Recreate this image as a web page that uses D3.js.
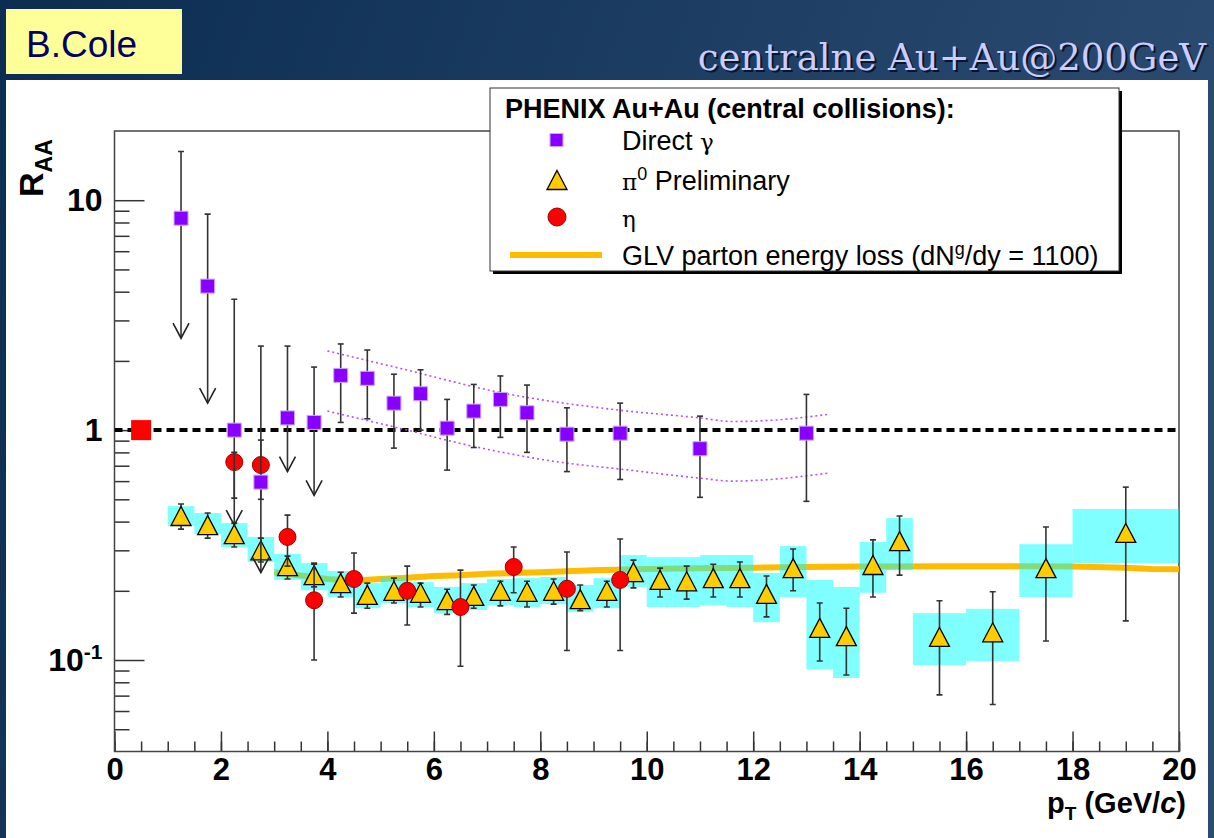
<!DOCTYPE html>
<html>
<head>
<meta charset="utf-8">
<script src="https://cdn.jsdelivr.net/npm/d3@7"></script>
<style>
body{margin:0;padding:0;overflow:hidden;background:#0f3057;}
text{font-family:"Liberation Sans", Arial, Helvetica, sans-serif;}
</style>
</head>
<body>
<div id="chart"></div>
<script>
var width=1214, height=838;
var margin={top:131, right:35, bottom:86.5, left:114.5};
var gwidth=width-margin.left-margin.right, gheight=height-margin.top-margin.bottom;

// direct photons (purple squares), first six are upper limits
var gamX  =[1.25,1.75,2.25,2.75,3.25,3.75,4.25,4.75,5.25,5.75,6.25,6.75,7.25,7.75,8.5,9.5,11,13];
var gamY  =[8.35,4.23,1.0,0.594,1.13,1.08,1.73,1.68,1.31,1.44,1.02,1.21,1.36,1.19,0.96,0.97,0.83,0.97];
var gamHi =[16.3,8.7,3.71,2.32,2.32,1.88,2.37,2.23,1.75,1.83,1.36,1.58,1.72,1.57,1.25,1.31,1.15,1.43];
var gamLo =[2.51,1.31,0.386,0.24,0.66,0.52,1.08,1.12,0.835,1.0,0.67,0.84,0.93,0.80,0.66,0.61,0.51,0.49];
var gamLimit=[1,1,1,1,1,1,0,0,0,0,0,0,0,0,0,0,0,0];

// dotted band around direct photons
var bandUpX=[4,5.35,7.23,9.5,11,11.6,12.4,13.4];
var bandUp =[2.21,1.86,1.46,1.22,1.13,1.09,1.105,1.17];
var bandLoX=[4,5.35,6.72,8.49,9.5,11,11.6,12.4,13.4];
var bandLo =[1.21,1.02,0.852,0.719,0.677,0.618,0.60,0.612,0.65];

// pi0 preliminary
var pi0X  =[1.25,1.75,2.25,2.75,3.25,3.75,4.25,4.75,5.25,5.75,6.25,6.75,7.25,7.75,8.25,8.75,9.25,9.75,10.25,10.75,11.25,11.75,12.25,12.75,13.25,13.75,14.25,14.75,15.5,16.5,17.5,19];
var pi0BinW=[0.5,0.5,0.5,0.5,0.5,0.5,0.5,0.5,0.5,0.5,0.5,0.5,0.5,0.5,0.5,0.5,0.5,0.5,0.5,0.5,0.5,0.5,0.5,0.5,0.5,0.5,0.5,0.5,1,1,1,2];
var pi0Y  =[0.423,0.386,0.353,0.300,0.256,0.234,0.216,0.192,0.200,0.196,0.182,0.190,0.200,0.198,0.200,0.184,0.200,0.241,0.223,0.220,0.227,0.227,0.194,0.251,0.138,0.127,0.259,0.329,0.126,0.132,0.251,0.357];
var pi0Hi =[0.477,0.436,0.394,0.339,0.283,0.264,0.241,0.216,0.227,0.216,0.203,0.212,0.220,0.220,0.225,0.212,0.220,0.272,0.251,0.256,0.261,0.267,0.232,0.304,0.177,0.168,0.333,0.423,0.181,0.198,0.379,0.565];
var pi0Lo =[0.371,0.339,0.310,0.267,0.225,0.208,0.188,0.168,0.177,0.170,0.158,0.168,0.172,0.170,0.175,0.164,0.170,0.206,0.188,0.184,0.188,0.188,0.154,0.200,0.099,0.086,0.188,0.234,0.0705,0.064,0.121,0.148];
var pi0SysHi=[0.467,0.436,0.394,0.343,0.289,0.264,0.244,0.216,0.230,0.218,0.208,0.216,0.225,0.227,0.230,0.212,0.227,0.286,0.280,0.280,0.286,0.286,0.239,0.313,0.223,0.208,0.326,0.414,0.160,0.167,0.319,0.454];
var pi0SysLo=[0.383,0.353,0.310,0.267,0.223,0.201,0.188,0.168,0.177,0.170,0.160,0.165,0.173,0.170,0.175,0.162,0.168,0.208,0.170,0.170,0.173,0.170,0.146,0.188,0.091,0.0835,0.196,0.246,0.095,0.099,0.188,0.264];

// eta
var etaX =[2.25,2.75,3.25,3.75,4.5,5.5,6.5,7.5,8.5,9.5];
var etaY =[0.726,0.705,0.343,0.182,0.225,0.200,0.170,0.254,0.204,0.223];
var etaHi=[0.80,0.905,0.427,0.261,0.292,0.256,0.246,0.310,0.295,0.336];
var etaLo=[0.506,0.50,0.256,0.10,0.160,0.142,0.094,0.196,0.110,0.110];

// GLV energy loss curve
var glvX=[3.0,3.5,4.0,4.5,5.0,5.5,6.0,6.5,7.0,7.5,8.0,8.5,9.0,10,11,12,13,14,16,18,19,19.5,20];
var glvY=[0.241,0.233,0.225,0.222,0.225,0.228,0.232,0.234,0.237,0.239,0.241,0.243,0.246,0.249,0.251,0.252,0.254,0.255,0.256,0.255,0.252,0.249,0.248];

// reference point at R_AA = 1
var refX=[0.5], refY=[1.0];

var xTicks=[0,2,4,6,8,10,12,14,16,18,20];
var yMajor=[0.1,1,10];
var yMinor=[0.05,0.06,0.07,0.08,0.09,0.2,0.3,0.4,0.5,0.6,0.7,0.8,0.9,2,3,4,5,6,7,8,9];

var svg=d3.select('#chart').append('svg')
        .attr('width', width)
        .attr('height', height);

var defs=svg.append('defs');
var grad=defs.append('linearGradient').attr('id','bg')
        .attr('x1','0').attr('y1','0').attr('x2','1').attr('y2','0.25');
grad.append('stop').attr('offset','0').attr('stop-color','#0c2d52');
grad.append('stop').attr('offset','1').attr('stop-color','#2b4b71');
defs.append('clipPath').attr('id','plotclip').append('rect')
        .attr('width', gwidth).attr('height', gheight);

svg.append('rect').attr('width',width).attr('height',height).attr('fill','url(#bg)');
svg.append('rect').attr('x',6).attr('y',80).attr('width',1202).attr('height',758).attr('fill','#fff');

// header
svg.append('rect').attr('x',6).attr('y',9).attr('width',176).attr('height',65).attr('fill','#ffff99');
svg.append('text').attr('x',26).attr('y',57).text('B.Cole')
    .style('font-size','37px').style('fill','#000066');
svg.append('text').attr('x',1208).attr('y',72).attr('text-anchor','end')
    .text('centralne Au+Au@200GeV')
    .style('font-family','"DejaVu Serif", Georgia, serif').style('font-size','37px').style('fill','#081628');
svg.append('text').attr('x',1206).attr('y',70).attr('text-anchor','end')
    .text('centralne Au+Au@200GeV')
    .style('font-family','"DejaVu Serif", Georgia, serif').style('font-size','37px').style('fill','#ccccff');

var g=svg.append('g').attr('transform','translate('+margin.left+','+margin.top+')');

var x=d3.scaleLinear().domain([0,20]).range([0,gwidth]);
var y=d3.scaleLog().domain([0.04,20]).range([gheight,0]);

// axes (ticks drawn inward)
var xMinorAxis=g.append('g').attr('transform','translate(0,'+gheight+')')
    .call(d3.axisBottom(x).tickValues(d3.range(0,20.01,0.5)).tickSize(-10).tickSizeOuter(0).tickFormat(''));
var xAxis=g.append('g').attr('transform','translate(0,'+gheight+')')
    .call(d3.axisBottom(x).tickValues(xTicks).tickSize(-20).tickSizeOuter(0).tickPadding(6));
var yMinorAxis=g.append('g')
    .call(d3.axisLeft(y).tickValues(yMinor).tickSize(-15).tickSizeOuter(0).tickFormat(''));
var yAxis=g.append('g')
    .call(d3.axisLeft(y).tickValues(yMajor).tickSize(-30).tickSizeOuter(0).tickPadding(12)
    .tickFormat(function(d){ return d==0.1 ? '10' : String(d); }));
[xMinorAxis,xAxis,yMinorAxis,yAxis].forEach(function(a){
    a.select('.domain').remove();
    a.selectAll('line').attr('stroke','#333').attr('stroke-width',1.5);
});
xAxis.selectAll('text').style('font-size','31px').style('font-weight','bold').style('fill','#000');
yAxis.selectAll('text').style('font-size','32px').style('font-weight','bold').style('fill','#000');
yAxis.selectAll('.tick').filter(function(d){ return d==0.1; }).select('text')
    .append('tspan').attr('dy','-0.55em').style('font-size','21px').text('-1');

g.append('rect').attr('width',gwidth).attr('height',gheight)
    .attr('fill','none').attr('stroke','#444').attr('stroke-width',1.5);

var plot=g.append('g').attr('clip-path','url(#plotclip)');

// GLV curve
var glv=glvX.map(function(d,i){ return [d, glvY[i]]; });
plot.append('path').datum(glv)
    .attr('d', d3.line().x(function(d){return x(d[0]);}).y(function(d){return y(d[1]);}))
    .attr('fill','none').attr('stroke','#ffbb00').attr('stroke-width',6);

// pi0 systematic boxes
for(i=0;i<pi0X.length;i++){
    plot.append('rect')
        .attr('x', x(pi0X[i]-pi0BinW[i]/2))
        .attr('y', y(pi0SysHi[i]))
        .attr('width', x(pi0X[i]+pi0BinW[i]/2)-x(pi0X[i]-pi0BinW[i]/2))
        .attr('height', y(pi0SysLo[i])-y(pi0SysHi[i]))
        .attr('fill','#00ffff').attr('fill-opacity',0.5);
}

// R_AA = 1 line
plot.append('line').attr('x1',0).attr('x2',gwidth).attr('y1',y(1)).attr('y2',y(1))
    .attr('stroke','#000').attr('stroke-width',4).attr('stroke-dasharray','8,5');

// dotted band
var bandLine=d3.line().curve(d3.curveMonotoneX).x(function(d){return x(d[0]);}).y(function(d){return y(d[1]);});
plot.append('path').datum(bandUpX.map(function(d,i){return [d,bandUp[i]];}))
    .attr('d',bandLine).attr('fill','none').attr('stroke','#b050ff').attr('stroke-width',1.6).attr('stroke-dasharray','2,3');
plot.append('path').datum(bandLoX.map(function(d,i){return [d,bandLo[i]];}))
    .attr('d',bandLine).attr('fill','none').attr('stroke','#b050ff').attr('stroke-width',1.6).attr('stroke-dasharray','2,3');

// reference square
plot.append('rect').attr('x',x(refX[0])-10).attr('y',y(refY[0])-10)
    .attr('width',20).attr('height',20).attr('fill','#ff0000');

function errBar(px, hi, lo, cap){
    plot.append('line').attr('x1',x(px)).attr('x2',x(px)).attr('y1',y(hi)).attr('y2',y(lo))
        .attr('stroke','#333').attr('stroke-width',1.6);
    if(cap){
        [hi,lo].forEach(function(v){
            plot.append('line').attr('x1',x(px)-3).attr('x2',x(px)+3).attr('y1',y(v)).attr('y2',y(v))
                .attr('stroke','#333').attr('stroke-width',1.6);
        });
    }
}

// pi0 error bars and markers
for(i=0;i<pi0X.length;i++) errBar(pi0X[i], pi0Hi[i], pi0Lo[i], true);
function tri(cx, cy){ return 'M'+cx+','+(cy-9.5)+'L'+(cx+10)+','+(cy+9.5)+'L'+(cx-10)+','+(cy+9.5)+'Z'; }
for(i=0;i<pi0X.length;i++){
    plot.append('path').attr('d', tri(x(pi0X[i]), y(pi0Y[i])))
        .attr('fill','#ffcc00').attr('stroke','#000').attr('stroke-width',1.3);
}

// eta
for(i=0;i<etaX.length;i++) errBar(etaX[i], etaHi[i], etaLo[i], true);
for(i=0;i<etaX.length;i++){
    plot.append('circle').attr('cx',x(etaX[i])).attr('cy',y(etaY[i])).attr('r',8.5)
        .attr('fill','#ff0000').attr('stroke','#a00000').attr('stroke-width',1);
}

// direct gamma
for(i=0;i<gamX.length;i++){
    if(gamLimit[i]){
        errBar(gamX[i], gamHi[i], gamLo[i], false);
        plot.append('line').attr('x1',x(gamX[i])-3).attr('x2',x(gamX[i])+3).attr('y1',y(gamHi[i])).attr('y2',y(gamHi[i]))
            .attr('stroke','#333').attr('stroke-width',1.6);
        plot.append('path')
            .attr('d','M'+(x(gamX[i])-8)+','+(y(gamLo[i])-15)+'L'+x(gamX[i])+','+y(gamLo[i])+'L'+(x(gamX[i])+8)+','+(y(gamLo[i])-15))
            .attr('fill','none').attr('stroke','#222').attr('stroke-width',1.6);
    } else {
        errBar(gamX[i], gamHi[i], gamLo[i], true);
    }
}
for(i=0;i<gamX.length;i++){
    plot.append('rect').attr('x',x(gamX[i])-7).attr('y',y(gamY[i])-7).attr('width',14).attr('height',14)
        .attr('fill','#8800ff').attr('stroke','#c9a6ff').attr('stroke-width',1);
}

// axis titles
var ylab=svg.append('text').attr('transform','translate(43,197) rotate(-90)')
    .style('font-size','34px').style('font-weight','bold');
ylab.append('tspan').text('R');
ylab.append('tspan').attr('dy',9).style('font-size','23px').text('AA');

var xlab=svg.append('text').attr('x',1186).attr('y',813).attr('text-anchor','end')
    .style('font-size','29px').style('font-weight','bold');
xlab.append('tspan').text('p');
xlab.append('tspan').attr('dy',7).style('font-size','19px').text('T');
xlab.append('tspan').attr('dy',-7).text(' (GeV/');
xlab.append('tspan').style('font-style','italic').text('c');
xlab.append('tspan').text(')');

// legend
var lg=svg.append('g');
lg.append('rect').attr('x',493).attr('y',91).attr('width',629).attr('height',183).attr('fill','#000');
lg.append('rect').attr('x',490).attr('y',88).attr('width',629).attr('height',183)
    .attr('fill','#fff').attr('stroke','#333').attr('stroke-width',1);
lg.append('text').attr('x',505).attr('y',118).text('PHENIX Au+Au (central collisions):')
    .style('font-size','27px').style('font-weight','bold');
var rows=[140,180,217,255];
lg.append('rect').attr('x',550).attr('y',rows[0]-6.5).attr('width',13).attr('height',13)
    .attr('fill','#8800ff').attr('stroke','#c9a6ff');
lg.append('path').attr('d',tri(557,rows[1])).attr('fill','#ffcc00').attr('stroke','#000').attr('stroke-width',1.3);
lg.append('circle').attr('cx',557).attr('cy',rows[2]).attr('r',9).attr('fill','#ff0000').attr('stroke','#a00000');
lg.append('line').attr('x1',510).attr('x2',602).attr('y1',rows[3]).attr('y2',rows[3])
    .attr('stroke','#ffbb00').attr('stroke-width',6);
var t1=lg.append('text').attr('x',622).attr('y',rows[0]+10).style('font-size','27px');
t1.append('tspan').text('Direct ');
t1.append('tspan').style('font-family','"DejaVu Serif", serif').style('font-size','23px').text('γ');
var t2=lg.append('text').attr('x',622).attr('y',rows[1]+10).style('font-size','27px');
t2.append('tspan').style('font-family','"DejaVu Serif", serif').style('font-size','23px').text('π');
t2.append('tspan').attr('dy',-10).style('font-size','18px').text('0');
t2.append('tspan').attr('dy',10).text(' Preliminary');
lg.append('text').attr('x',622).attr('y',rows[2]+10).style('font-family','"DejaVu Serif", serif').style('font-size','23px').text('η');
var t4=lg.append('text').attr('x',622).attr('y',rows[3]+10).style('font-size','27px');
t4.append('tspan').text('GLV parton energy loss (dN');
t4.append('tspan').attr('dy',-10).style('font-size','18px').text('g');
t4.append('tspan').attr('dy',10).text('/dy = 1100)');
</script>
</body>
</html>
